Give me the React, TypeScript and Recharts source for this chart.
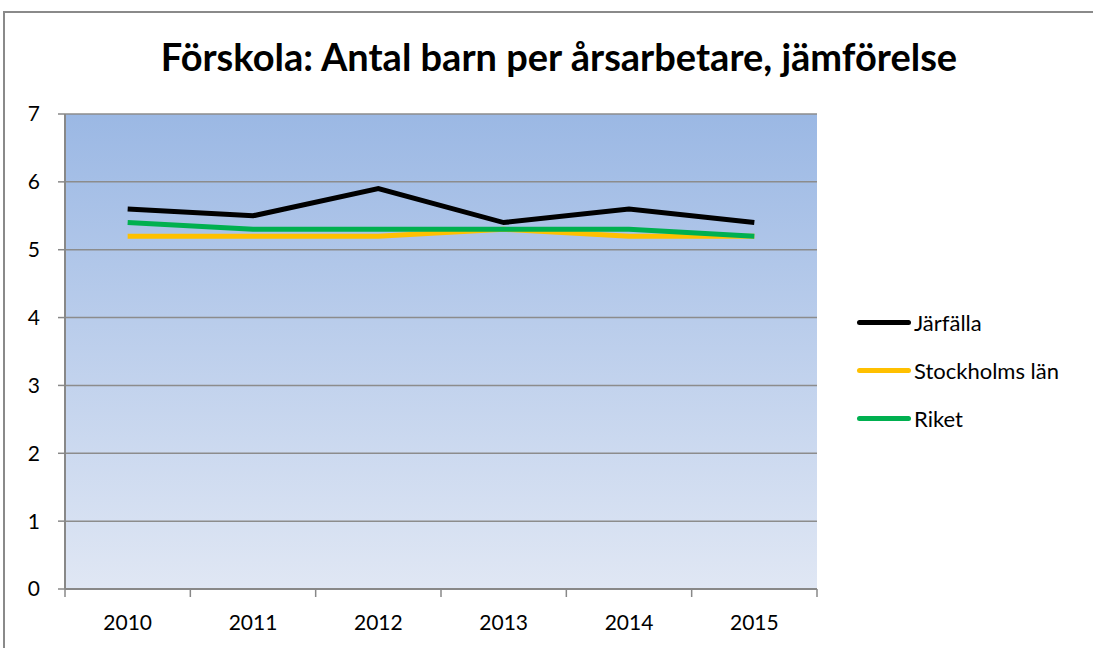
import { LineChart, Line, XAxis, YAxis, CartesianGrid } from 'recharts';

const years = ['2010', '2011', '2012', '2013', '2014', '2015'];
const jarfalla = [5.6, 5.5, 5.9, 5.4, 5.6, 5.4];
const stockholm = [5.2, 5.2, 5.2, 5.3, 5.2, 5.2];
const riket = [5.4, 5.3, 5.3, 5.3, 5.3, 5.2];
const yTicks = [0, 1, 2, 3, 4, 5, 6, 7];

const series = [
  { key: 'jarfalla', name: 'Järfälla', color: '#000000' },
  { key: 'stockholm', name: 'Stockholms län', color: '#ffc000' },
  { key: 'riket', name: 'Riket', color: '#00b050' },
];

const data = years.map((year, i) => ({
  year,
  jarfalla: jarfalla[i],
  stockholm: stockholm[i],
  riket: riket[i],
}));

const FONT = 'Lato, "Open Sans", sans-serif';
const HALF_BAND = 752 / 6 / 2;

// x tick: label centred on the category, tick marks on the band edges like Excel
const XTick = (props: any) => {
  const { x, y, payload, index } = props;
  const last = index === years.length - 1;
  return (
    <g>
      <line x1={x - HALF_BAND} x2={x - HALF_BAND} y1={y - 8} y2={y} stroke="#888" strokeWidth={1.5} />
      {last && <line x1={x + HALF_BAND} x2={x + HALF_BAND} y1={y - 8} y2={y} stroke="#888" strokeWidth={1.5} />}
      <text x={x} y={y + 33} textAnchor="middle" fill="#000" fontSize={21} fontFamily={FONT}>
        {payload.value}
      </text>
    </g>
  );
};

export default function App() {
  return (
    <div style={{ position: 'absolute', left: 0, top: 0, width: 1093, height: 648, overflow: 'hidden', background: '#fff' }}>
      <div style={{ position: 'absolute', left: 3, top: 11, width: 1100, height: 700, border: '2px solid #8a8a8a' }} />
      <div
        style={{
          position: 'absolute',
          left: 0,
          top: 33,
          width: 1118,
          textAlign: 'center',
          fontFamily: FONT,
          fontWeight: 700,
          fontSize: 38,
          color: '#000',
        }}
      >
        Förskola: Antal barn per årsarbetare, jämförelse
      </div>
      <div style={{ position: 'absolute', left: 0, top: 0 }}>
        <LineChart width={1093} height={648} data={data} margin={{ top: 114, right: 276, bottom: 0, left: 0 }}>
          <defs>
            <linearGradient id="plotBg" x1="0" y1="0" x2="0" y2="1">
              <stop offset="0%" stopColor="#9bb8e4" />
              <stop offset="100%" stopColor="#e0e7f4" />
            </linearGradient>
          </defs>
          <CartesianGrid vertical={false} stroke="#8c8c8c" strokeWidth={1.5} fill="url(#plotBg)" fillOpacity={1} />
          <XAxis
            dataKey="year"
            padding={{ left: HALF_BAND, right: HALF_BAND }}
            axisLine={{ stroke: '#888', strokeWidth: 2 }}
            tickLine={false}
            tick={<XTick />}
            interval={0}
            height={59}
          />
          <YAxis
            domain={[0, 7]}
            ticks={yTicks}
            width={65}
            axisLine={{ stroke: '#888', strokeWidth: 2 }}
            tickLine={{ stroke: '#888', strokeWidth: 1.5 }}
            tickSize={7}
            tickMargin={18}
            tick={{ fill: '#000', fontSize: 21, fontFamily: FONT }}
          />
          {series.map((s) => (
            <Line
              key={s.key}
              dataKey={s.key}
              name={s.name}
              stroke={s.color}
              strokeWidth={5}
              dot={false}
              isAnimationActive={false}
            />
          ))}
        </LineChart>
      </div>
      <div style={{ position: 'absolute', left: 857, top: 298, fontFamily: FONT, fontSize: 22, color: '#000' }}>
        {series.map((s) => (
          <div key={s.key} style={{ display: 'flex', alignItems: 'center', height: 48 }}>
            <span style={{ display: 'inline-block', width: 54, height: 5, borderRadius: 3, background: s.color }} />
            <span style={{ marginLeft: 3 }}>{s.name}</span>
          </div>
        ))}
      </div>
    </div>
  );
}
